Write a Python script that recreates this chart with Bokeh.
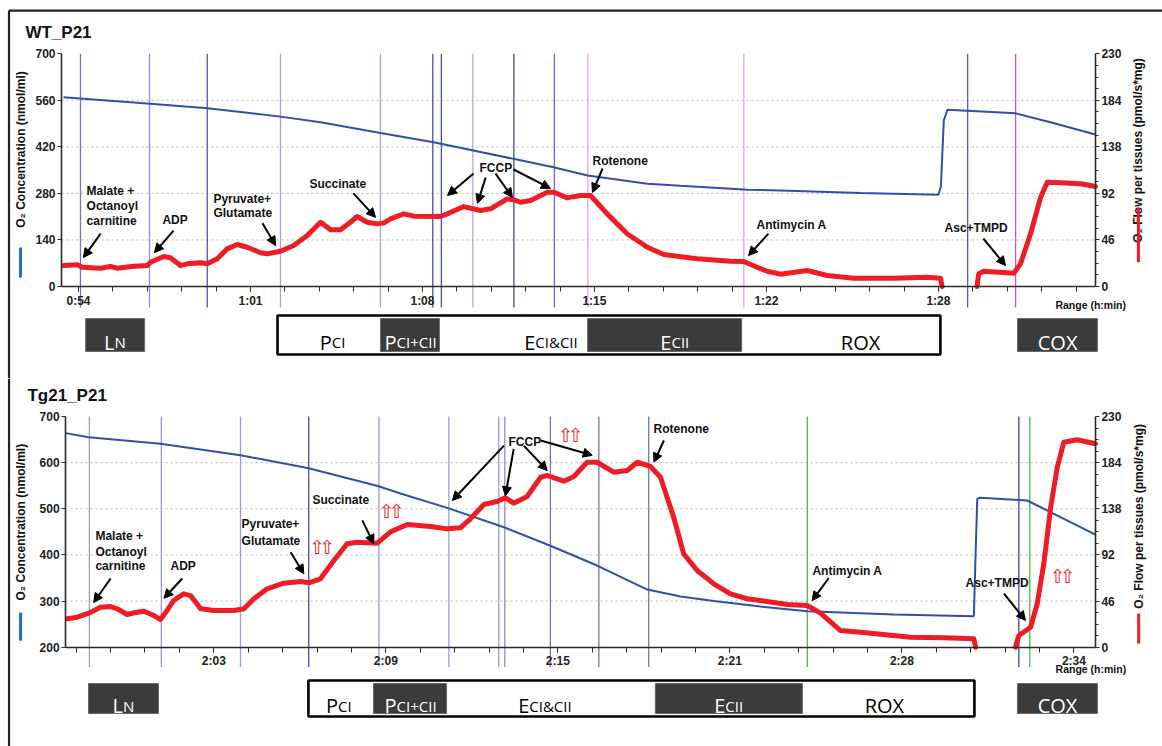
import numpy as np
from bokeh.plotting import figure
from bokeh.models import Range1d, LinearAxis, FixedTicker, ColumnDataSource, Arrow, NormalHead
from bokeh.layouts import column
from bokeh.embed import file_html
from bokeh.resources import INLINE
from bokeh.core.properties import value

NAN = float("nan")

# ===================== shared =====================
flow_ticks = [0, 46, 92, 138, 184, 230]
FLOW_MAX = 230

# ===================== WT_P21 =====================
wt_tick_values = [54, 61, 68, 75, 82, 89]
wt_tick_labels = ["0:54", "1:01", "1:08", "1:15", "1:22", "1:28"]
wt_conc_ticks = [0, 140, 280, 420, 560, 700]

wt_conc_time = [53.39, 56.93, 59.25, 62.22, 63.85, 66.29, 68.45, 71.70, 73.33, 74.72,
                77.16, 78.50, 79.88, 81.23, 82.57, 85.83, 89.00, 89.10, 89.22, 89.37,
                90.18, 92.14, 93.56, 95.39]
wt_conc = [569, 550, 536, 511, 494, 462, 434, 384, 359, 334,
           309, 303, 297, 291, 289, 281, 276, 300, 500, 532,
           529, 521, 494, 457]

wt_flow_time = [53.40, 53.95, 54.15, 54.90, 55.30, 55.57, 56.25, 56.80, 56.93, 57.47,
                57.74, 58.15, 58.42, 58.97, 59.24, 59.65, 60.05, 60.46, 60.87, 61.41,
                61.68, 62.22, 62.76, 63.31, 63.85, 64.26, 64.66, 65.07, 65.34, 65.75,
                66.16, 66.43, 66.70, 67.24, 67.65, 68.73, 69.01, 69.68, 70.36, 70.77,
                71.45, 71.72, 71.99, 72.40, 73.08, 73.35, 73.89, 74.43, 74.84, 75.52,
                76.33, 77.15, 77.82, 79.18, 80.54, 81.08, 81.62, 82.03, 82.57, 83.66,
                84.47, 85.56, 87.18, 88.54, 89.08, 89.15, NAN, 90.57, 90.64, 90.84,
                92.07, 92.34, 92.75, 93.16, 93.43, 93.98, 94.79, 95.39]
wt_flow = [20.7, 21.4, 19.1, 18.1, 19.8, 18.1, 20.1, 20.7, 24.0, 29.6,
           28.4, 20.7, 22.4, 23.4, 22.4, 27.4, 37.2, 41.5, 38.8, 33.3,
           32.3, 34.9, 40.5, 50.4, 63.5, 56.0, 56.0, 63.5, 69.2, 63.5,
           61.9, 62.9, 66.9, 71.8, 69.5, 69.2, 71.8, 79.0, 75.1, 76.8,
           86.6, 85.7, 83.3, 85.0, 93.2, 93.2, 87.6, 89.9, 89.9, 71.8,
           52.1, 38.8, 31.6, 27.4, 25.0, 24.7, 19.1, 15.1, 12.2, 15.8,
           10.9, 8.2, 8.2, 9.2, 8.2, 0.0, NAN, 0.0, 12.5, 15.1,
           13.1, 22.4, 52.1, 88.2, 103.0, 102.5, 101.5, 98.8]

wt_event_time = [54.08, 56.89, 59.24, 62.22, 66.29, 68.42, 68.77, 70.05, 71.72, 73.37,
                 74.73, 81.08, 90.19, 92.14]
wt_event_color = ["#7474c4", "#8c8cd2", "#5454b0", "#a4a4da", "#a4a4da", "#4a4aa8",
                  "#4a4aa8", "#acacde", "#4444a4", "#6a6ac0", "#e4a4dc", "#d4a8dc",
                  "#5a5ab8", "#c658c6"]

wt_note_text = ["Malate +", "Octanoyl", "carnitine", "Pyruvate+", "Glutamate",
                "Succinate", "FCCP", "Rotenone", "Antimycin A", "Asc+TMPD"]
wt_note_x = [54.33, 54.33, 54.33, 59.49, 59.49, 63.40, 70.32, 74.92, 81.60, 89.25]
wt_note_y = [287, 242, 197, 263, 221, 307, 355, 379, 184, 175]
wt_center_text = ["ADP"]
wt_center_x = [57.93]
wt_center_y = [201]

wt_arrow_x0 = [54.90, 57.87, 61.49, 65.19, 70.08, 70.57, 70.97, 71.71, 75.33, 82.08, 90.83]
wt_arrow_y0 = [159, 168, 190, 280, 340, 328, 340, 352, 355, 159, 144]
wt_arrow_x1 = [54.20, 57.09, 62.02, 66.09, 69.02, 70.24, 71.66, 73.21, 74.92, 81.27, 91.73]
wt_arrow_y1 = [87, 102, 123, 208, 274, 250, 268, 295, 283, 93, 63]

# state bar (time spans of the protocol blocks)
wt_bar_frame = (62.10, 89.08)
wt_bar_dark = [(66.29, 68.69), (74.72, 80.99)]
wt_bar_solo = [(54.29, 56.69), (92.22, 95.47)]
wt_bar_labels = [("L", "N", 55.49, "white"), ("P", "CI", 64.33, "black"),
                 ("P", "CI+CII", 67.49, "white"), ("E", "CI&CII", 73.21, "black"),
                 ("E", "CII", 78.26, "white"), ("ROX", "", 85.83, "black"),
                 ("COX", "", 93.85, "white")]

# ===================== Tg21_P21 =====================
tg_tick_values = [123, 129, 135, 141, 147, 153]
tg_tick_labels = ["2:03", "2:09", "2:15", "2:21", "2:28", "2:34"]
tg_conc_ticks = [200, 300, 400, 500, 600, 700]

tg_conc_time = [117.83, 118.64, 121.14, 123.93, 126.31, 128.75, 129.51, 131.14, 133.12,
                134.74, 136.37, 138.12, 139.28, 140.44, 142.07, 143.70, 146.72, 149.51,
                149.57, 149.63, 149.74, 151.37, 153.75]
tg_conc = [664, 655, 641, 616, 588, 549, 533, 502, 460,
           420, 377, 325, 310, 300, 288, 278, 271, 267,
           400, 522, 524, 518, 444]

tg_flow_time = [117.89, 118.24, 118.64, 119.05, 119.40, 119.63, 119.98, 120.21, 120.56,
                120.91, 121.14, 121.37, 121.60, 121.95, 122.19, 122.54, 123.00, 123.70,
                124.05, 124.40, 124.86, 125.44, 126.03, 126.31, 126.72, 127.19, 127.65,
                128.00, 128.70, 129.16, 129.75, 130.56, 131.14, 131.60, 131.95, 132.42,
                132.88, 133.17, 133.46, 133.93, 134.40, 134.63, 135.21, 135.56, 136.02,
                136.37, 136.95, 137.42, 137.77, 138.23, 138.58, 139.04, 139.39, 139.86,
                140.44, 141.02, 141.60, 142.07, 143.00, 143.70, 144.16, 144.86, 145.56,
                147.30, 148.46, 149.51, 149.57, NAN, 150.96, 151.08, 151.49, 151.72,
                151.95, 152.19, 152.42, 152.65, 153.12, 153.75]
tg_flow = [28.3, 29.9, 33.9, 39.9, 40.6, 38.3, 32.6, 34.3, 35.9,
           31.6, 27.6, 36.6, 46.6, 53.2, 51.5, 38.3, 36.6, 36.6,
           38.3, 48.3, 58.2, 63.8, 65.5, 64.2, 68.2, 86.4, 103.1,
           104.7, 103.7, 115.0, 122.3, 120.3, 118.0, 119.0, 128.0, 142.3,
           145.3, 149.0, 143.6, 150.3, 169.5, 171.2, 165.5, 170.2, 184.4,
           184.4, 174.5, 176.2, 184.4, 180.2, 169.5, 129.6, 93.1, 76.5,
           63.2, 53.2, 48.3, 46.6, 42.6, 41.6, 33.9, 16.6, 15.0,
           10.0, 9.4, 8.4, 0.0, NAN, 0.0, 11.7, 19.9, 43.3,
           83.2, 139.6, 179.5, 204.4, 206.8, 202.8]

tg_event_time = [118.66, 121.17, 123.93, 126.31, 128.76, 131.20, 132.94, 133.15, 134.74,
                 136.43, 138.17, 143.70, 151.08, 151.46]
tg_event_color = ["#9a9ad4", "#9a9ad4", "#9a9ad4", "#4a4aa8", "#9a9ad4", "#9a9ad4",
                  "#9a9ad4", "#8c8cd0", "#7272c2", "#7272c2", "#7272c2", "#56b056",
                  "#4444a8", "#56b056"]

tg_note_text = ["Malate +", "Octanoyl", "carnitine", "Pyruvate+", "Glutamate",
                "Succinate", "FCCP", "Rotenone", "Antimycin A", "Asc+TMPD"]
tg_note_x = [118.87, 118.87, 118.87, 123.97, 123.97, 126.44, 133.28, 138.34, 143.88, 149.22]
tg_note_y = [440, 407, 375, 466, 431, 518, 644, 674, 366, 340]
tg_center_text = ["ADP"]
tg_center_x = [121.93]
tg_center_y = [377]

tg_arrow_x0 = [119.40, 121.90, 125.68, 128.18, 133.12, 133.46, 133.81, 134.40, 138.70, 144.45, 150.56]
tg_arrow_y0 = [349, 349, 406, 475, 637, 630, 637, 648, 648, 350, 316]
tg_arrow_x1 = [118.81, 121.26, 126.14, 128.58, 131.32, 133.17, 134.63, 136.20, 138.35, 143.87, 151.31]
tg_arrow_y1 = [297, 306, 359, 424, 518, 528, 583, 616, 601, 301, 258]

# red "increase" markers (pairs of hollow up-arrows)
tg_up_x = [126.77, 129.20, 135.44, 152.60]
tg_up_y = [418, 496, 661, 355]

tg_bar_frame = (126.30, 149.53)
tg_bar_dark = [(128.57, 131.12), (138.40, 143.53)]
tg_bar_solo = [(118.63, 121.07), (151.03, 153.82)]
tg_bar_labels = [("L", "N", 119.85, "white"), ("P", "CI", 127.35, "black"),
                 ("P", "CI+CII", 129.84, "white"), ("E", "CI&CII", 134.53, "black"),
                 ("E", "CII", 140.95, "white"), ("ROX", "", 146.39, "black"),
                 ("COX", "", 152.43, "white")]

# ===================== builders =====================
CHAR_W = {"P": .603, "E": .543, "L": .496, "C": .608, "I": .266, "N": .742,
          "+": .572, "&": .727, "O": .781, "R": .598, "X": .572}
BIG, SMALL = 20, 15
FONT = "Liberation Sans"
BOLD = value(FONT)


def text_w(s, size):
    return sum(CHAR_W.get(c, .6) for c in s) * size


def style_axis(ax, standoff=2):
    ax.axis_line_color = "#2a2a2a"
    ax.axis_line_width = 1.6
    ax.major_tick_line_color = "#2a2a2a"
    ax.minor_tick_line_color = "#2a2a2a"
    ax.major_tick_in = 0
    ax.major_tick_out = 4
    ax.minor_tick_in = 0
    ax.minor_tick_out = 3
    ax.major_label_text_font = FONT
    ax.major_label_text_font_style = "bold"
    ax.major_label_text_font_size = "12px"
    ax.major_label_text_color = "#222222"
    ax.major_label_standoff = standoff


def build(cfg):
    xr, yr = cfg["xr"], cfg["yr"]
    c0, c1 = cfg["conc_ticks"][0], cfg["conc_ticks"][-1]
    k = FLOW_MAX / (c1 - c0)
    p = figure(width=cfg["w"], height=cfg["h"], x_range=Range1d(*xr), y_range=Range1d(*yr),
               output_backend="svg", toolbar_location=None, min_border=0,
               x_axis_type=None, y_axis_type=None)
    p.extra_y_ranges = {"flow": Range1d((yr[0] - c0) * k, (yr[1] - c0) * k)}
    p.outline_line_color = None
    p.background_fill_color = "white"
    p.border_fill_color = "white"
    xl, xrt = cfg["x_left"], cfg["x_right"]

    # outer border (top and left)
    if cfg.get("top_border") is not None:
        p.segment(x0=[cfg["left_border"]], x1=[xr[1]], y0=[cfg["top_border"]], y1=[cfg["top_border"]],
                  line_color="#222222", line_width=2.2)
    p.segment(x0=[cfg["left_border"]], x1=[cfg["left_border"]], y0=[yr[0]],
              y1=[cfg["top_border"] if cfg.get("top_border") is not None else yr[1]],
              line_color="#222222", line_width=2.2)

    # dotted grid
    g = cfg["conc_ticks"][1:-1]
    p.segment(x0=[xl] * len(g), x1=[xrt] * len(g), y0=g, y1=g,
              line_color="#b8b8b8", line_width=1, line_dash="2 3")

    # event marks
    p.segment(x0=cfg["ev_t"], x1=cfg["ev_t"], y0=[cfg["ev_bottom"]] * len(cfg["ev_t"]),
              y1=[c1] * len(cfg["ev_t"]), line_color=cfg["ev_c"], line_width=1.3)

    # axes
    ax_t0 = cfg["x_ticks"][0]
    step = (cfg["x_ticks"][1] - cfg["x_ticks"][0]) / 5.0
    minors = [float(m) for m in np.arange(ax_t0 - 10 * step, cfg["x_ticks"][-1] + 10 * step, step)
              if xl < m < xrt]
    xa = LinearAxis(fixed_location=c0, bounds=(xl, xrt),
                    ticker=FixedTicker(ticks=cfg["x_ticks"], minor_ticks=minors),
                    major_label_overrides={t: l for t, l in zip(cfg["x_ticks"], cfg["x_labels"])})
    style_axis(xa)
    xa.major_tick_out = 5
    xa.minor_tick_out = 5
    p.add_layout(xa, "below")

    ya = LinearAxis(fixed_location=xl, bounds=(c0, c1),
                    ticker=FixedTicker(ticks=cfg["conc_ticks"]))
    style_axis(ya)
    p.add_layout(ya, "left")

    fminor = [float(v) for v in np.arange(0, FLOW_MAX, 11.5) if v not in flow_ticks]
    ra = LinearAxis(y_range_name="flow", fixed_location=xrt, bounds=(0, FLOW_MAX),
                    ticker=FixedTicker(ticks=flow_ticks, minor_ticks=fminor))
    style_axis(ra)
    p.add_layout(ra, "right")

    # series
    p.line(cfg["conc_t"], cfg["conc"], line_color="#2f4fae", line_width=2)
    p.line(cfg["flow_t"], cfg["flow"], y_range_name="flow", line_color="#ee1c24",
           line_width=5, line_join="round", line_cap="round")

    # annotations
    p.text(x=cfg["note_x"], y=cfg["note_y"], text=cfg["note_text"], text_font=BOLD,
           text_font_style="bold", text_font_size="12px", text_color="#111111",
           text_align="left", text_baseline="middle")
    p.text(x=cfg["center_x"], y=cfg["center_y"], text=cfg["center_text"], text_font=BOLD,
           text_font_style="bold", text_font_size="12px", text_color="#111111",
           text_align="center", text_baseline="middle")
    src = ColumnDataSource(dict(x0=cfg["ax0"], y0=cfg["ay0"], x1=cfg["ax1"], y1=cfg["ay1"]))
    p.add_layout(Arrow(x_start="x0", y_start="y0", x_end="x1", y_end="y1", source=src,
                       line_color="black", line_width=2,
                       end=NormalHead(size=9, fill_color="black", line_color="black")))
    if cfg.get("up_x"):
        n = len(cfg["up_x"])
        for dx in (-5, 5):
            p.text(x=cfg["up_x"], y=cfg["up_y"], text=["\u21e7"] * n, x_offset=dx,
                   text_font=value("DejaVu Sans"), text_font_size="19px", text_color="#ee1c24",
                   text_align="center", text_baseline="middle")

    # titles / axis titles
    p.text(x=[cfg["title_x"]], y=[cfg["title_y"]], text=[cfg["title"]], text_font=BOLD,
           text_font_style="bold", text_font_size="17px", text_color="#111111",
           text_align="left", text_baseline="middle")
    p.text(x=[cfg["ylab_x"]], y=[cfg["ylab_y"]], text=["O\u2082 Concentration (nmol/ml)"],
           angle=np.pi / 2, text_font=BOLD, text_font_style="bold", text_font_size="12px",
           text_color="#111111", text_align="center", text_baseline="middle")
    p.segment(x0=[cfg["ylab_x"]], x1=[cfg["ylab_x"]], y0=[cfg["ymark"][0]], y1=[cfg["ymark"][1]],
              line_color="#1f6fc8", line_width=3)
    p.text(x=[cfg["rlab_x"]], y=[cfg["rlab_y"]], text=["O\u2082 Flow per tissues (pmol/s*mg)"],
           y_range_name="flow", angle=np.pi / 2, text_font=BOLD, text_font_style="bold",
           text_font_size="12px", text_color="#111111", text_align="center",
           text_baseline="middle")
    p.segment(x0=[cfg["rlab_x"]], x1=[cfg["rlab_x"]], y0=[cfg["rmark"][0]], y1=[cfg["rmark"][1]],
              y_range_name="flow", line_color="#ee1c24", line_width=3)
    p.text(x=[cfg["range_x"]], y=[cfg["range_y"]], text=["Range (h:min)"], text_font=BOLD,
           text_font_style="bold", text_font_size="10.5px", text_color="#111111",
           text_align="left", text_baseline="middle")

    # protocol state bar
    fb, ft = cfg["bar_frame_y"]
    db, dt = cfg["bar_dark_y"]
    f0, f1 = cfg["bar_frame"]
    p.quad(left=[f0], right=[f1], bottom=[fb], top=[ft], fill_color="white",
           line_color="black", line_width=2.6)
    boxes = cfg["bar_dark"] + cfg["bar_solo"]
    p.quad(left=[b[0] for b in boxes], right=[b[1] for b in boxes],
           bottom=[db] * len(boxes), top=[dt] * len(boxes),
           fill_color="#3b3b3b", line_color="#6a6a6a", line_width=1)
    ymid = (db + dt) / 2.0
    for big, small, cx, col in cfg["bar_labels"]:
        if small:
            off = (text_w(big, BIG) - text_w(small, SMALL)) / 2.0
            p.text(x=[cx], y=[ymid], text=[big], x_offset=off, y_offset=7,
                   text_font=value("Open Sans"), text_font_size=f"{BIG}px",
                   text_color=col, text_align="right", text_baseline="alphabetic")
            p.text(x=[cx], y=[ymid], text=[small], x_offset=off, y_offset=7,
                   text_font=value("Open Sans"), text_font_size=f"{SMALL}px",
                   text_color=col, text_align="left", text_baseline="alphabetic")
        else:
            p.text(x=[cx], y=[ymid], text=[big], y_offset=7,
                   text_font=value("Open Sans"), text_font_size=f"{BIG}px",
                   text_color=col, text_align="center", text_baseline="alphabetic")
    return p


wt_cfg = dict(
    w=1162, h=378, xr=(50.825, 98.12), yr=(-276.7, 860.3),
    x_left=53.308, x_right=95.39, conc_ticks=wt_conc_ticks,
    x_ticks=wt_tick_values, x_labels=wt_tick_labels,
    conc_t=wt_conc_time, conc=wt_conc, flow_t=wt_flow_time, flow=wt_flow,
    ev_t=wt_event_time, ev_c=wt_event_color, ev_bottom=-63,
    note_x=wt_note_x, note_y=wt_note_y, note_text=wt_note_text,
    center_x=wt_center_x, center_y=wt_center_y, center_text=wt_center_text,
    ax0=wt_arrow_x0, ay0=wt_arrow_y0, ax1=wt_arrow_x1, ay1=wt_arrow_y1,
    title="WT_P21", title_x=51.84, title_y=765,
    ylab_x=51.64, ylab_y=412, ymark=(117, 27),
    rlab_x=97.14, rlab_y=134.4, rmark=(78, 24),
    range_x=93.76, range_y=-57,
    top_border=830, left_border=51.171,
    bar_frame=wt_bar_frame, bar_dark=wt_bar_dark, bar_solo=wt_bar_solo,
    bar_frame_y=(-204.5, -87.2), bar_dark_y=(-195.5, -96.3), bar_labels=wt_bar_labels,
)

tg_cfg = dict(
    w=1162, h=368, xr=(115.560, 156.09), yr=(-15.2, 782.4),
    x_left=117.83, x_right=153.75, conc_ticks=tg_conc_ticks,
    x_ticks=tg_tick_values, x_labels=tg_tick_labels,
    conc_t=tg_conc_time, conc=tg_conc, flow_t=tg_flow_time, flow=tg_flow,
    ev_t=tg_event_time, ev_c=tg_event_color, ev_bottom=157,
    note_x=tg_note_x, note_y=tg_note_y, note_text=tg_note_text,
    center_x=tg_center_x, center_y=tg_center_y, center_text=tg_center_text,
    ax0=tg_arrow_x0, ay0=tg_arrow_y0, ax1=tg_arrow_x1, ay1=tg_arrow_y1,
    up_x=tg_up_x, up_y=tg_up_y,
    title="Tg21_P21", title_x=116.50, title_y=745,
    ylab_x=116.26, ylab_y=471, ymark=(275, 214),
    rlab_x=155.26, rlab_y=130.5, rmark=(33.5, 3.6),
    range_x=152.36, range_y=152,
    top_border=None, left_border=115.857,
    bar_frame=tg_bar_frame, bar_dark=tg_bar_dark, bar_solo=tg_bar_solo,
    bar_frame_y=(49.8, 127.8), bar_dark_y=(56.3, 121.3), bar_labels=tg_bar_labels,
)

p1 = build(wt_cfg)
p2 = build(tg_cfg)
layout = column(p1, p2, spacing=0)

open("out.html", "w").write(file_html(layout, INLINE))
